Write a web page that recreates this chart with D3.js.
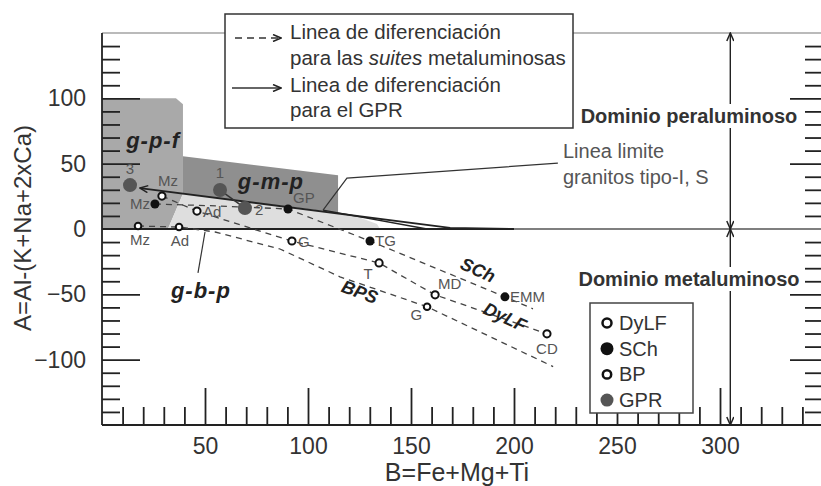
<!DOCTYPE html>
<html>
<head>
<meta charset="utf-8">
<script src="https://cdn.jsdelivr.net/npm/d3@7"></script>
<style>
body { margin: 0; background: #fff; }
</style>
</head>
<body>
<div id="chart"></div>
<script>
// --- data (B = Fe+Mg+Ti, A = Al-(K+Na+2xCa)) ---
var gprNames = ["3", "1", "2"];
var gprB = [13.6, 57.3, 69.4];
var gprA = [33.6, 29.8, 16.0];

var schNames = ["Mz", "GP", "TG", "EMM"];
var schB = [25.7, 90.3, 130.1, 195.6];
var schA = [19.1, 15.3, -9.2, -51.9];

var dylfNames = ["Mz", "Ad", "G", "T", "MD", "CD"];
var dylfB = [29.1, 46.1, 92.2, 134.5, 161.7, 216.0];
var dylfA = [25.2, 13.7, -9.2, -26.0, -50.4, -80.2];

var bpNames = ["Mz", "Ad", "G"];
var bpB = [17.5, 37.4, 157.8];
var bpA = [2.3, 1.5, -59.5];

// differentiation trends
var schLineB = [25.7, 57.3, 90.3, 130.1, 195.6, 209.2];
var schLineA = [19.1, 17.6, 15.3, -9.2, -51.9, -61.1];
var dylfLineB = [29.1, 46.1, 71.8, 92.2, 134.5, 161.7, 216.0];
var dylfLineA = [25.2, 13.7, 0.8, -9.2, -26.0, -50.4, -80.2];
var bpsLineB = [17.5, 37.4, 54.9, 86.4, 115.5, 157.8, 219.0];
var bpsLineA = [2.3, 1.5, -2.3, -15.3, -36.6, -59.5, -105.3];
var gprLineB = [18.4, 169.0, 199.5];
var gprLineA = [31.3, 0.8, 0];
var gpr12B = [57.3, 69.4];
var gpr12A = [29.8, 16.0];
var isLineB = [107.3, 157.8];
var isLineA = [14.5, 0];

// fields
var gpfB = [0, 35.9, 39.3, 39.3, 32.0, 0];
var gpfA = [100, 100, 95.4, 27.0, 0, 0];
var gmpB = [39.3, 114.6, 114.6, 39.3];
var gmpA = [55.7, 41.2, 12.5, 27.0];
var gbpB = [32.0, 39.3, 114.6, 120.4, 133.5, 135.0];
var gbpA = [0, 27.0, 12.5, 11.5, 3.8, 0];

// ticks
var xTickLabels = [50, 100, 150, 200, 250, 300];
var yTickLabels = [-100, -50, 0, 50, 100];
var xMinorTicks = [10, 20, 30, 40, 60, 70, 80, 90, 110, 120, 130, 140, 160, 170, 180, 190,
                   210, 220, 230, 240, 260, 270, 280, 290, 310, 320, 330, 340];
var yMinorTicks = [-140, -130, -120, -110, -90, -80, -70, -60, -40, -30, -20, -10,
                   10, 20, 30, 40, 60, 70, 80, 90, 110, 120, 130, 140];
var yMajorTicks = [-100, -50, 50, 100];

// --- layout ---
var svgWidth = 821, svgHeight = 486;
var font = "Liberation Sans, Arial, sans-serif";
var x = d3.scaleLinear().domain([0, 350]).range([102, 823]);
var y = d3.scaleLinear().domain([-150, 150]).range([425, 33]);

var svg = d3.select("#chart").append("svg")
    .attr("width", svgWidth)
    .attr("height", svgHeight)
    .attr("font-family", font);

svg.append("defs").append("marker")
    .attr("id", "arr")
    .attr("viewBox", "0 0 10 8")
    .attr("refX", 9).attr("refY", 4)
    .attr("markerWidth", 10).attr("markerHeight", 8)
    .attr("markerUnits", "userSpaceOnUse")
    .attr("orient", "auto-start-reverse")
    .append("path")
    .attr("d", "M1,0.5 L9,4 L1,7.5")
    .attr("fill", "none")
    .attr("stroke", "#222")
    .attr("stroke-width", 1.5);

var lineGen = d3.line().x(d => x(d[0])).y(d => y(d[1]));

// fields
svg.append("path").attr("d", lineGen(d3.zip(gpfB, gpfA)) + "Z").attr("fill", "#a9a9a9");
svg.append("path").attr("d", lineGen(d3.zip(gbpB, gbpA)) + "Z").attr("fill", "#dedede");
svg.append("path").attr("d", lineGen(d3.zip(gmpB, gmpA)) + "Z").attr("fill", "#8f8f8f");

// tick marks pointing into the plot
function tickAxis(axis, tx, ty) {
  var g = svg.append("g").attr("transform", "translate(" + tx + "," + ty + ")").call(axis);
  g.select(".domain").remove();
  g.selectAll(".tick text").remove();
  g.selectAll(".tick line").attr("stroke", "#222").attr("stroke-width", 1.8);
}
tickAxis(d3.axisRight(y).tickValues(yMinorTicks).tickSize(18), x(0), 0);
tickAxis(d3.axisRight(y).tickValues(yMajorTicks).tickSize(38), x(0), 0);
tickAxis(d3.axisLeft(y).tickValues(yMinorTicks).tickSize(18), x(350), 0);
tickAxis(d3.axisLeft(y).tickValues(yMajorTicks).tickSize(33), x(350), 0);
tickAxis(d3.axisTop(x).tickValues(xMinorTicks).tickSize(18), 0, y(-150));
tickAxis(d3.axisTop(x).tickValues(xTickLabels).tickSize(37), 0, y(-150));

// tick labels
var yl = svg.append("g").attr("transform", "translate(" + x(0) + ",0)")
    .call(d3.axisLeft(y).tickValues(yTickLabels).tickSize(0).tickPadding(16));
yl.select(".domain").remove();
yl.attr("font-size", 23).attr("font-family", font).attr("color", "#333");
var xl = svg.append("g").attr("transform", "translate(0," + y(-150) + ")")
    .call(d3.axisBottom(x).tickValues(xTickLabels).tickSize(0).tickPadding(13));
xl.select(".domain").remove();
xl.attr("font-size", 23).attr("font-family", font).attr("color", "#333");

// frame
svg.append("line").attr("x1", x(0)).attr("x2", x(350)).attr("y1", y(150)).attr("y2", y(150))
    .attr("stroke", "#777").attr("stroke-width", 1.2);
svg.append("line").attr("x1", x(0)).attr("x2", x(0)).attr("y1", y(150)).attr("y2", y(-150))
    .attr("stroke", "#222").attr("stroke-width", 1.8);
svg.append("line").attr("x1", x(0)).attr("x2", x(350)).attr("y1", y(-150)).attr("y2", y(-150))
    .attr("stroke", "#222").attr("stroke-width", 1.8);
svg.append("line").attr("x1", x(0)).attr("x2", x(350)).attr("y1", y(0)).attr("y2", y(0))
    .attr("stroke", "#555").attr("stroke-width", 1.5);
svg.append("line").attr("x1", x(0)).attr("x2", x(200)).attr("y1", y(0)).attr("y2", y(0))
    .attr("stroke", "#222").attr("stroke-width", 2.2);

// domain arrow
svg.append("line").attr("x1", x(305)).attr("x2", x(305)).attr("y1", y(150)).attr("y2", y(0))
    .attr("stroke", "#222").attr("stroke-width", 1.4)
    .attr("marker-start", "url(#arr)").attr("marker-end", "url(#arr)");
svg.append("line").attr("x1", x(305)).attr("x2", x(305)).attr("y1", y(0)).attr("y2", y(-150))
    .attr("stroke", "#222").attr("stroke-width", 1.4)
    .attr("marker-start", "url(#arr)").attr("marker-end", "url(#arr)");

// dashed trends
[[schLineB, schLineA], [dylfLineB, dylfLineA], [bpsLineB, bpsLineA]].forEach(function(t) {
  svg.append("path").attr("d", lineGen(d3.zip(t[0], t[1])))
      .attr("fill", "none").attr("stroke", "#444").attr("stroke-width", 1.3)
      .attr("stroke-dasharray", "6,5");
});

// solid lines
svg.append("path").attr("d", lineGen(d3.zip(gprLineB, gprLineA)))
    .attr("fill", "none").attr("stroke", "#222").attr("stroke-width", 1.8)
    .attr("marker-start", "url(#arr)");
svg.append("path").attr("d", lineGen(d3.zip(gpr12B, gpr12A)))
    .attr("fill", "none").attr("stroke", "#333").attr("stroke-width", 1.5);
svg.append("path").attr("d", lineGen(d3.zip(isLineB, isLineA)))
    .attr("fill", "none").attr("stroke", "#222").attr("stroke-width", 1.3);

// leader lines
var isLeaderB = [107.3, 118.9, 221.3], isLeaderA = [14.5, 38.9, 50.4];
svg.append("path").attr("d", lineGen(d3.zip(isLeaderB, isLeaderA)))
    .attr("fill", "none").attr("stroke", "#333").attr("stroke-width", 1.2);
var gbpLeaderB = [46.6, 50.0], gbpLeaderA = [-33.6, -2.3];
svg.append("path").attr("d", lineGen(d3.zip(gbpLeaderB, gbpLeaderA)))
    .attr("fill", "none").attr("stroke", "#333").attr("stroke-width", 1.2);

// points
function drawPoints(names, bs, as, style, offs) {
  var g = svg.append("g");
  names.forEach(function(n, i) {
    g.append("circle").attr("cx", x(bs[i])).attr("cy", y(as[i]))
        .attr("r", style.r).attr("fill", style.fill)
        .attr("stroke", style.stroke).attr("stroke-width", style.sw);
    var o = offs[i];
    g.append("text").attr("x", x(bs[i]) + o[0]).attr("y", y(as[i]) + o[1])
        .attr("text-anchor", o[2]).attr("font-size", 15).attr("fill", "#555").text(n);
  });
}
drawPoints(gprNames, gprB, gprA, {r: 7, fill: "#555", stroke: "none", sw: 0},
    [[0, -11, "middle"], [0, -12, "middle"], [10, 7, "start"]]);
drawPoints(schNames, schB, schA, {r: 4.5, fill: "#111", stroke: "none", sw: 0},
    [[-5, 5, "end"], [5, -6, "start"], [5, 5, "start"], [5, 5, "start"]]);
drawPoints(dylfNames, dylfB, dylfA, {r: 3.6, fill: "#fff", stroke: "#111", sw: 2},
    [[6, -10, "middle"], [6, 6, "start"], [6, 6, "start"], [-11, 16, "middle"], [3, -6, "start"], [0, 20, "middle"]]);
drawPoints(bpNames, bpB, bpA, {r: 3.3, fill: "#fff", stroke: "#111", sw: 2},
    [[2, 19, "middle"], [1, 19, "middle"], [-5, 13, "end"]]);

// suite & field labels
var tagNames = ["SCh", "DyLF", "BPS", "g-p-f", "g-m-p", "g-b-p"];
var tagB = [182.5, 195.6, 125.2, 24.8, 82.0, 48.0];
var tagA = [-31.3, -67.2, -48.1, 67.9, 36.6, -46.6];
var tagRot = [24, 25, 20, 0, 0, 0];
var tagSize = [18, 18, 18, 22, 22, 22];
tagNames.forEach(function(n, i) {
  svg.append("text")
      .attr("transform", "translate(" + x(tagB[i]) + "," + y(tagA[i]) + ") rotate(" + tagRot[i] + ")")
      .attr("dy", "0.35em").attr("text-anchor", "middle")
      .attr("font-size", tagSize[i]).attr("font-weight", "bold").attr("font-style", "italic")
      .attr("letter-spacing", i > 2 ? 1 : 0).attr("fill", "#222").text(n);
});

svg.append("text").attr("x", 563).attr("y", 158).attr("font-size", 20).attr("fill", "#555").text("Linea limite");
svg.append("text").attr("x", 563).attr("y", 184).attr("font-size", 20).attr("fill", "#555").text("granitos tipo-I, S");

// domain texts on a white patch
[["Dominio peraluminoso", 116], ["Dominio metaluminoso", 279]].forEach(function(d) {
  svg.append("rect").attr("x", 577).attr("y", d[1] - 12).attr("width", 225).attr("height", 24)
      .attr("fill", "#fff");
  svg.append("text").attr("x", 689).attr("y", d[1]).attr("dy", "0.35em")
      .attr("text-anchor", "middle").attr("font-size", 20).attr("font-weight", "bold")
      .attr("fill", "#333").text(d[0]);
});

// axis titles
svg.append("text").attr("x", 457).attr("y", 481).attr("text-anchor", "middle")
    .attr("font-size", 25).attr("fill", "#333").text("B=Fe+Mg+Ti");
svg.append("text").attr("transform", "translate(23,228) rotate(-90)").attr("dy", "0.35em")
    .attr("text-anchor", "middle").attr("font-size", 24).attr("fill", "#333").text("A=Al-(K+Na+2xCa)");

// legend of lines
var leg = svg.append("g");
leg.append("rect").attr("x", 225).attr("y", 14).attr("width", 348).attr("height", 114)
    .attr("fill", "#fff").attr("stroke", "#333").attr("stroke-width", 1.5);
leg.append("line").attr("x1", 235).attr("x2", 281).attr("y1", 38).attr("y2", 38)
    .attr("stroke", "#333").attr("stroke-width", 1.6).attr("stroke-dasharray", "7,5")
    .attr("marker-end", "url(#arr)");
leg.append("line").attr("x1", 232).attr("x2", 281).attr("y1", 88).attr("y2", 88)
    .attr("stroke", "#333").attr("stroke-width", 1.6).attr("marker-end", "url(#arr)");
var legText = leg.append("g").attr("font-size", 20.5).attr("fill", "#333");
legText.append("text").attr("x", 290).attr("y", 39).text("Linea de diferenciación");
var l2 = legText.append("text").attr("x", 290).attr("y", 65);
l2.append("tspan").text("para las ");
l2.append("tspan").attr("font-style", "italic").text("suites");
l2.append("tspan").text(" metaluminosas");
legText.append("text").attr("x", 290).attr("y", 92).text("Linea de diferenciación");
legText.append("text").attr("x", 290).attr("y", 117).text("para el GPR");

// legend of symbols
var symNames = ["DyLF", "SCh", "BP", "GPR"];
var symFill = ["#fff", "#111", "#fff", "#555"];
var symStroke = ["#111", "none", "#111", "none"];
var symR = [4.5, 6.5, 4.2, 6.5];
var leg2 = svg.append("g");
leg2.append("rect").attr("x", 590).attr("y", 303).attr("width", 103).attr("height", 110)
    .attr("fill", "#fff").attr("stroke", "#444").attr("stroke-width", 1.5);
symNames.forEach(function(n, i) {
  var cy = 323 + i * 25.7;
  leg2.append("circle").attr("cx", 607).attr("cy", cy).attr("r", symR[i])
      .attr("fill", symFill[i]).attr("stroke", symStroke[i]).attr("stroke-width", 2.5);
  leg2.append("text").attr("x", 619).attr("y", cy).attr("dy", "0.35em")
      .attr("font-size", 20).attr("fill", "#333").text(n);
});
</script>
</body>
</html>
